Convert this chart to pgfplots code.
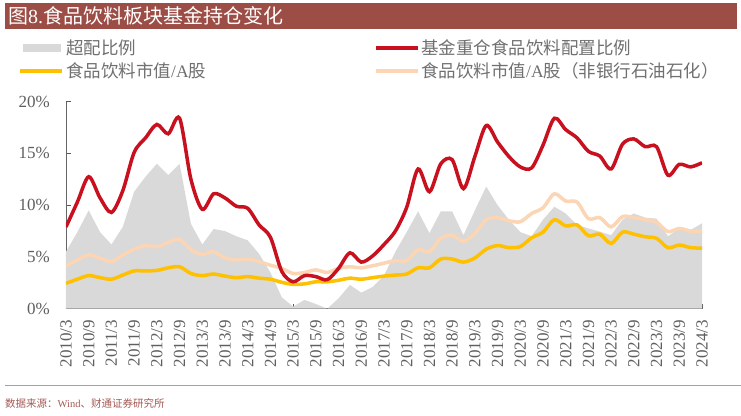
\documentclass[border=0pt]{standalone}
\usepackage{pgfplots}
\pgfplotsset{compat=1.18}
\usepackage{pgfplotstable}
\usepackage{fontspec}
\setmainfont{Liberation Serif}
\newfontfamily\cjk{Noto Sans CJK SC}
\definecolor{barred}{RGB}{156,77,69}
\definecolor{mainred}{RGB}{200,16,30}
\definecolor{gold}{RGB}{255,192,0}
\definecolor{peach}{RGB}{252,213,180}
\definecolor{areagray}{RGB}{217,217,217}
\definecolor{txtgray}{RGB}{95,95,95}
\definecolor{leggray}{RGB}{112,112,112}
\definecolor{srcred}{RGB}{165,90,85}
\definecolor{lnred}{RGB}{205,145,140}

\pgfplotstableread{
i red gray peach gold
0 7.9 5.5 4.15 2.45
1 10.3 7.4 4.7 2.85
2 12.75 9.5 5.2 3.2
3 10.7 7.4 4.9 3.0
4 9.3 6.2 4.55 2.85
5 11.4 7.9 5.2 3.25
6 15.1 11.3 5.75 3.65
7 16.5 12.75 6.1 3.65
8 17.8 14.0 6.0 3.7
9 16.9 12.9 6.4 3.95
10 18.4 14.0 6.7 4.05
11 12.5 8.2 5.7 3.4
12 9.6 6.2 5.25 3.2
13 11.1 7.7 5.5 3.35
14 10.7 7.5 4.9 3.15
15 9.9 7.0 4.7 3.0
16 9.7 6.6 4.8 3.1
17 8.1 5.3 4.55 2.95
18 6.9 3.5 4.2 2.85
19 3.6 1.1 3.9 2.55
20 2.6 0.2 3.4 2.35
21 3.2 0.85 3.5 2.4
22 3.1 0.45 3.75 2.6
23 2.8 0.0 3.5 2.6
24 3.9 1.0 3.9 2.75
25 5.4 2.3 4.05 2.95
26 4.5 1.55 3.95 2.85
27 5.1 2.1 4.15 3.0
28 6.2 3.2 4.4 3.15
29 7.5 5.5 4.65 3.25
30 9.8 7.4 4.65 3.35
31 13.5 9.4 5.7 3.95
32 11.3 7.3 5.5 3.95
33 14.0 9.4 6.8 4.8
34 14.4 9.4 7.1 4.8
35 11.6 7.1 6.5 4.5
36 14.7 9.5 7.25 4.9
37 17.7 11.8 8.6 5.75
38 16.1 10.0 8.8 6.1
39 14.7 8.6 8.5 5.9
40 13.7 7.4 8.4 6.0
41 13.6 7.0 9.2 6.85
42 15.8 8.6 9.75 7.4
43 18.4 9.85 11.1 8.6
44 17.3 9.2 10.4 8.0
45 16.5 8.1 10.3 8.1
46 15.2 7.75 8.7 7.05
47 14.75 7.45 8.8 7.2
48 13.5 7.1 7.9 6.3
49 15.9 8.6 8.9 7.4
50 16.4 9.2 8.8 7.2
51 15.65 8.8 8.6 6.95
52 15.65 8.7 8.35 6.8
53 12.9 7.0 7.45 5.9
54 13.95 7.75 7.75 6.15
55 13.7 7.6 7.5 5.9
56 14.1 8.25 7.5 5.85
}\datatable

\begin{document}
\begin{tikzpicture}[x=1pt,y=1pt]
\useasboundingbox (0,0) rectangle (741,415);
\fill[white] (0,0) rectangle (741,415);
% title bar
\fill[barred] (5,385.7) rectangle (737,411.7);
\node[anchor=west, text=white, font=\fontsize{20}{22}\selectfont, inner sep=0pt] at (8,398.7) {{\cjk 图}8.{\cjk 食品饮料板块基金持仓变化}};
% legend
\fill[areagray] (23,363) rectangle (61,371);
\node[anchor=west, inner sep=0pt, text=leggray, font=\fontsize{17.5}{20}\selectfont] at (66,367) {{\cjk 超配比例}};
\draw[gold, line width=3.5pt] (20,344) -- (62,344);
\node[anchor=west, inner sep=0pt, text=leggray, font=\fontsize{17.5}{20}\selectfont] at (66,344) {{\cjk 食品饮料市值}/A{\cjk 股}};
\draw[mainred, line width=3.5pt] (376,367) -- (418,367);
\node[anchor=west, inner sep=0pt, text=leggray, font=\fontsize{17.5}{20}\selectfont] at (421,367) {{\cjk 基金重仓食品饮料配置比例}};
\draw[peach, line width=3.5pt] (376,344) -- (418,344);
\node[anchor=west, inner sep=0pt, text=leggray, font=\fontsize{17.5}{20}\selectfont] at (421,344) {{\cjk 食品饮料市值}/A{\cjk 股（非银行石油石化）}};
% source
\draw[lnred, line width=0.8pt] (5,30) -- (741,30);
\node[anchor=west, inner sep=0pt, text=srcred, font=\fontsize{10.5}{12}\selectfont] at (5,12) {{\cjk 数据来源：}Wind{\cjk 、财通证券研究所}};

\begin{axis}[
  at={(66pt,106.3pt)}, anchor=south west,
  scale only axis, width=636pt, height=207pt,
  xmin=0, xmax=56, ymin=0, ymax=20,
  axis x line*=bottom, axis y line*=left,
  x axis line style={draw=black!70, line width=1pt, -},
  y axis line style={draw=black!60, line width=0.8pt, -},
  tick align=inside, major tick length=4.5pt,
  tick style={draw=black!65, line width=0.8pt},
  ytick={0,5,10,15,20},
  yticklabels={0\%,5\%,10\%,15\%,20\%},
  yticklabel style={text=txtgray, font=\fontsize{17}{19}\selectfont, inner sep=0pt, anchor=east, xshift=-16pt},
  xtick={0,2,...,56},
  xticklabels={2010/3,2010/9,2011/3,2011/9,2012/3,2012/9,2013/3,2013/9,2014/3,2014/9,2015/3,2015/9,2016/3,2016/9,2017/3,2017/9,2018/3,2018/9,2019/3,2019/9,2020/3,2020/9,2021/3,2021/9,2022/3,2022/9,2023/3,2023/9,2024/3},
  xticklabel style={text=txtgray, font=\fontsize{17}{19}\selectfont, inner sep=0pt, yshift=-11pt, rotate=90, anchor=east},
]
\addplot[fill=areagray, draw=none] table[x=i, y=gray] {\datatable} \closedcycle;
\addplot[peach, line width=3.5pt, smooth, tension=0.5] table[x=i, y=peach] {\datatable};
\addplot[gold, line width=3.5pt, smooth, tension=0.5] table[x=i, y=gold] {\datatable};
\addplot[mainred, line width=3.5pt, smooth, tension=0.5] table[x=i, y=red] {\datatable};
\end{axis}
\end{tikzpicture}
\end{document}
